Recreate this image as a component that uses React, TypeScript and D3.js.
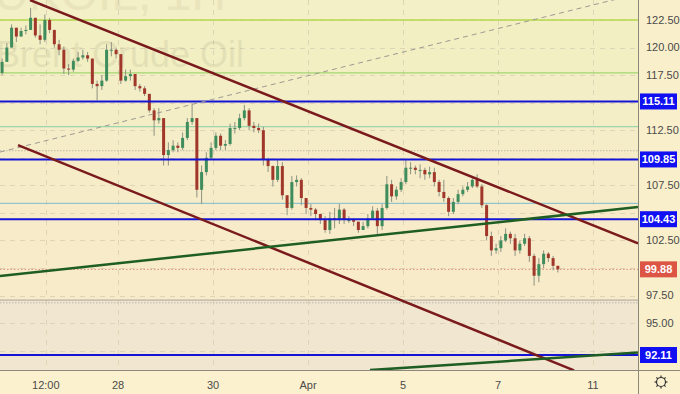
import * as d3 from "d3";

// bar data (1 bar = 0.1 trading day), prices
const firstOpen = 117.7;
const firstBarDay = -2.44;
const barStepDays = 0.1;
const closes = [
  118.7, 120.0, 121.8, 121.0, 121.5, 121.6, 122.7, 121.1, 120.7, 122.5,
  121.6, 120.3, 119.8, 118.1, 118.0, 118.8, 119.1, 119.3, 119.0, 116.7,
  116.5, 117.0, 119.8, 119.8, 119.4, 117.0, 117.4, 117.6, 116.5, 116.3,
  115.8, 114.3, 113.4, 113.6, 110.25, 110.7, 111.1, 110.9, 111.8, 113.25,
  113.6, 107.1, 108.7, 110.0, 110.9, 112.0, 111.1, 111.25, 112.7, 112.7,
  113.6, 114.3, 112.9, 112.7, 112.5, 109.8, 109.25, 108.0, 109.25, 106.6,
  105.45, 107.8, 108.0, 106.35, 105.45, 105.3, 104.9, 104.35, 103.45, 104.5,
  104.35, 105.3, 104.35, 104.35, 104.2, 103.45, 103.8, 104.5, 105.2, 103.8,
  105.45, 107.6, 106.5, 107.1, 107.8, 109.1, 109.1, 108.9, 108.9, 108.5,
  108.7, 107.8, 106.9, 106.35, 105.1, 106.0, 106.7, 107.1, 107.4, 108.0,
  107.4, 105.7, 102.9, 101.6, 101.8, 102.5, 103.1, 102.7, 101.6, 102.2,
  102.7, 101.1, 99.3, 100.35, 101.3, 100.9, 100.2, 99.88,
];
const highs = [
  119.0, 120.4, 122.1, 121.6, 121.8, 122.0, 123.6, 122.7, 122.1, 123.0,
  122.7, 121.6, 120.7, 120.1, 118.5, 119.0, 119.6, 119.8, 119.6, 119.0,
  117.0, 117.5, 120.3, 120.5, 120.0, 119.2, 118.0, 118.0, 117.4, 116.7,
  116.5, 115.7, 114.5, 114.5, 113.4, 111.4, 111.6, 111.4, 112.3, 113.6,
  114.9, 113.6, 109.3, 110.5, 111.4, 112.3, 112.2, 111.6, 113.1, 113.25,
  114.0, 114.8, 114.5, 113.25, 113.1, 112.8, 110.0, 109.3, 109.8, 109.6,
  106.2, 108.35, 108.4, 108.15, 106.2, 105.8, 105.45, 104.9, 104.7, 105.1,
  105.45, 105.8, 105.45, 104.7, 104.5, 104.0, 104.2, 104.9, 105.6, 105.45,
  105.8, 108.35, 108.0, 107.4, 108.15, 109.8, 109.6, 109.3, 109.4, 109.1,
  109.2, 109.1, 108.0, 108.0, 106.5, 106.35, 107.1, 107.4, 107.8, 108.35,
  108.5, 107.6, 105.8, 103.3, 102.2, 102.9, 103.6, 103.3, 103.1, 102.5,
  103.1, 102.9, 101.3, 100.9, 101.6, 101.45, 101.1, 100.2,
];
const lows = [
  117.5, 119.3, 120.2, 120.5, 121.0, 121.2, 121.6, 120.9, 120.3, 120.5,
  121.3, 120.0, 119.3, 117.6, 117.5, 117.8, 118.7, 118.9, 118.7, 116.3,
  115.2, 116.15, 116.9, 119.2, 119.0, 116.7, 116.9, 117.0, 116.15, 116.0,
  115.6, 114.1, 112.0, 113.1, 109.3, 109.3, 110.5, 110.5, 110.7, 111.6,
  113.0, 106.4, 105.8, 108.4, 109.8, 110.7, 110.7, 110.7, 111.1, 112.2,
  112.5, 113.4, 112.5, 112.3, 112.25, 109.3, 108.7, 107.4, 107.8, 106.2,
  104.8, 105.3, 107.4, 105.7, 104.9, 104.7, 104.35, 104.0, 103.2, 103.1,
  103.6, 104.0, 104.0, 104.1, 103.8, 103.2, 103.45, 103.6, 104.5, 103.1,
  103.45, 105.3, 106.0, 106.2, 106.9, 107.6, 108.5, 108.5, 108.15, 108.0,
  108.15, 107.4, 106.5, 106.0, 104.7, 104.9, 105.8, 106.5, 106.9, 107.25,
  107.25, 105.45, 102.5, 101.1, 101.3, 101.45, 102.35, 102.2, 101.1, 101.3,
  102.0, 100.55, 98.4, 98.7, 100.0, 100.55, 99.8, 99.6,
];

// axes
const timeTickLabels = ["12:00", "28", "30", "Apr", "5", "7", "11"];
const timeTickDays = [-1.52, 0, 2, 4, 6, 8, 10];
const priceTicks = [92.5, 95, 97.5, 100, 102.5, 105, 107.5, 110, 112.5, 115, 117.5, 120, 122.5];

// drawings
const keyLevels = [115.11, 109.85, 104.43, 92.11];
const lastPrice = 99.88;
const fibLevels = [122.5, 117.7, 112.82, 110.64, 105.87, 97.09];
const fibColors = ["#b4d84c", "#8fd05e", "#86cfa6", "#bdb5a2", "#79bcd2", "#a9a398"];
const fibBands = ["#f3efc6", "#f2efc3", "#f3eec5", "#f5edc7", "#f6ecc8", "#f7ebc9", "#f1e6d0"];
const channelTop = [[-1.853, 124.31], [10.947, 102.25]];
const channelBottom = [[-2.105, 111.15], [9.6, 90.72]];
const supportUpper = [[-2.484, 99.27], [10.947, 105.53]];
const supportLower = [[5.305, 90.74], [10.947, 92.33]];
const dashedTrend = [[-2.484, 110.52], [10.568, 124.47]];

const W = 680;
const H = 394;
const plotW = 638;
const plotH = 370;

export default function App() {
  const x = d3.scaleLinear().domain([-118 / 47.5, (plotW - 118) / 47.5]).range([0, plotW]);
  const y = d3.scaleLinear().domain([92.11, 122.5]).range([355, 20]);

  const bars = closes.map((c, i) => {
    const o = i === 0 ? firstOpen : closes[i - 1];
    return {
      day: firstBarDay + i * barStepDays,
      o,
      c,
      h: Math.max(highs[i], o, c),
      l: Math.min(lows[i], o, c),
    };
  });

  const line = d3
    .line<number[]>()
    .x((d) => x(d[0]))
    .y((d) => y(d[1]));

  const bandEdges = [0, ...fibLevels.map((p) => y(p)), plotH];
  const font = "'Liberation Sans', Arial, sans-serif";

  // tick labels hidden behind the level boxes
  const boxed = [...keyLevels, lastPrice];
  const visibleTicks = priceTicks.filter((p) => boxed.every((b) => Math.abs(y(p) - y(b)) > 12));

  return (
    <svg
      width={W}
      height={H}
      style={{ position: "absolute", left: 0, top: 0, display: "block" }}
    >
      <defs>
        <clipPath id="plot">
          <rect x={0} y={0} width={plotW} height={plotH} />
        </clipPath>
      </defs>
      <rect x={0} y={0} width={W} height={H} fill="#f9efcb" />
      <rect x={0} y={plotH} width={W} height={H - plotH} fill="#fcf1ce" />

      <g clipPath="url(#plot)">
        {fibBands.map((col, i) => (
          <rect
            key={"b" + i}
            x={0}
            y={bandEdges[i]}
            width={plotW}
            height={bandEdges[i + 1] - bandEdges[i]}
            fill={col}
          />
        ))}

        {/* grid */}
        {priceTicks.map((p) => (
          <line
            key={"gy" + p}
            x1={0}
            x2={plotW}
            y1={Math.round(y(p)) + 0.5}
            y2={Math.round(y(p)) + 0.5}
            stroke="#ddd5b6"
            strokeDasharray="5,5"
          />
        ))}
        {timeTickDays.map((d) => (
          <line
            key={"gx" + d}
            x1={Math.round(x(d)) + 0.5}
            x2={Math.round(x(d)) + 0.5}
            y1={0}
            y2={plotH}
            stroke="#ddd5b6"
            strokeDasharray="5,5"
          />
        ))}

        {/* watermark */}
        <text x={-6} y={10} fontFamily={font} fontSize={48} fill="#a8a07c" opacity={0.13}>
          UKOIL, 1H
        </text>
        <text x={-4} y={67} fontFamily={font} fontSize={36} fill="#a8a07c" opacity={0.18}>
          Brent Crude Oil
        </text>

        {/* fib levels */}
        {fibLevels.map((p, i) => (
          <line
            key={"f" + i}
            x1={0}
            x2={plotW}
            y1={y(p)}
            y2={y(p)}
            stroke={fibColors[i]}
            strokeWidth={i === 0 ? 1.5 : 1}
            strokeDasharray={i === 3 ? "1.5,1.5" : undefined}
          />
        ))}
        <line
          x1={0}
          x2={plotW}
          y1={y(fibLevels[5]) + 2.7}
          y2={y(fibLevels[5]) + 2.7}
          stroke="#b9b3a8"
          strokeDasharray="1.5,1.5"
        />
        <line
          x1={0}
          x2={plotW}
          y1={y(lastPrice)}
          y2={y(lastPrice)}
          stroke="#e2887a"
          strokeDasharray="1.5,2"
        />

        {/* candles */}
        {bars.map((b, i) => {
          const up = b.c >= b.o;
          const cx = x(b.day);
          const top = y(Math.max(b.o, b.c));
          const bot = y(Math.min(b.o, b.c));
          return (
            <g key={"c" + i}>
              <line x1={cx} x2={cx} y1={y(b.h)} y2={y(b.l)} stroke="#8f9284" strokeWidth={1} />
              <rect
                x={cx - 1.5}
                y={top}
                width={3}
                height={Math.max(1, bot - top)}
                fill={up ? "#3f8d5c" : "#a1372a"}
              />
            </g>
          );
        })}

        {/* key levels */}
        {keyLevels.map((p) => (
          <line key={"k" + p} x1={0} x2={plotW} y1={y(p)} y2={y(p)} stroke="#1414d6" strokeWidth={2} />
        ))}

        {/* trend lines */}
        <path d={line(dashedTrend) || ""} stroke="#9c9a92" strokeWidth={1} strokeDasharray="5,4" fill="none" />
        <path d={line(channelTop) || ""} stroke="#7a1a1c" strokeWidth={2.5} fill="none" />
        <path d={line(channelBottom) || ""} stroke="#7a1a1c" strokeWidth={2.5} fill="none" />
        <path d={line(supportUpper) || ""} stroke="#1f5e22" strokeWidth={2.5} fill="none" />
        <path d={line(supportLower) || ""} stroke="#1f5e22" strokeWidth={2.5} fill="none" />
      </g>

      {/* axes borders */}
      <line x1={0} x2={W} y1={plotH + 0.5} y2={plotH + 0.5} stroke="#8c887c" />
      <line x1={plotW + 0.5} x2={plotW + 0.5} y1={0} y2={H} stroke="#8c887c" />

      {/* price axis */}
      {visibleTicks.map((p) => (
        <text
          key={"pt" + p}
          x={646}
          y={y(p)}
          dy="0.35em"
          fontFamily={font}
          fontSize={11}
          fill="#4a4a4a"
        >
          {p.toFixed(2)}
        </text>
      ))}
      {keyLevels.map((p) => (
        <g key={"kl" + p}>
          <rect x={640} y={y(p) - 8} width={37} height={16} fill="#1010f2" />
          <text
            x={658.5}
            y={y(p)}
            dy="0.35em"
            textAnchor="middle"
            fontFamily={font}
            fontSize={11}
            fontWeight="bold"
            fill="#ffffff"
          >
            {p.toFixed(2)}
          </text>
        </g>
      ))}
      <rect x={640} y={y(lastPrice) - 8} width={37} height={16} fill="#dd5544" />
      <text
        x={658.5}
        y={y(lastPrice)}
        dy="0.35em"
        textAnchor="middle"
        fontFamily={font}
        fontSize={11}
        fontWeight="bold"
        fill="#ffffff"
      >
        {lastPrice.toFixed(2)}
      </text>

      {/* time axis */}
      {timeTickDays.map((d, i) => (
        <text
          key={"tt" + d}
          x={x(d)}
          y={385}
          dy="0.35em"
          textAnchor="middle"
          fontFamily={font}
          fontSize={11}
          fill="#4a4a4a"
        >
          {timeTickLabels[i]}
        </text>
      ))}

      {/* settings icon */}
      <g transform="translate(661,382)" stroke="#333" fill="none" strokeWidth={1.2}>
        <circle r={4.5} />
        {d3.range(8).map((k) => {
          const a = (k * Math.PI) / 4;
          return (
            <line
              key={"s" + k}
              x1={Math.cos(a) * 4.5}
              y1={Math.sin(a) * 4.5}
              x2={Math.cos(a) * 6.5}
              y2={Math.sin(a) * 6.5}
            />
          );
        })}
      </g>
    </svg>
  );
}
